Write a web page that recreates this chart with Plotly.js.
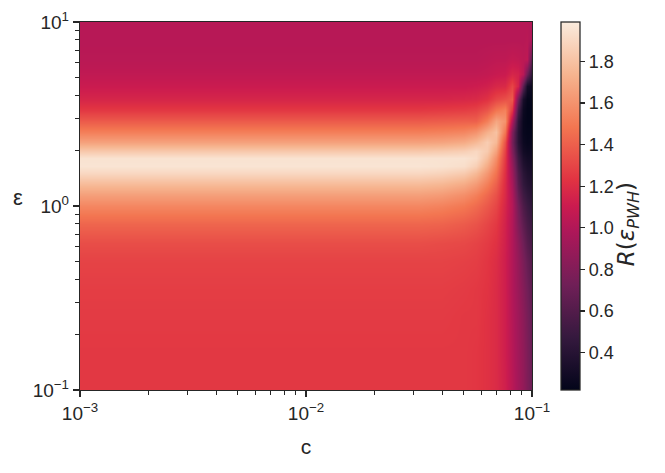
<!DOCTYPE html>
<html><head><meta charset="utf-8">
<script src="https://cdn.plot.ly/plotly-3.0.1.min.js"></script>
<style>html,body{margin:0;padding:0;background:#fff}#chart{width:665px;height:473px}</style>
</head><body><div id="chart"></div>
<script>
// log10(c) column centres
const logC = [-3, -2.5, -2, -1.7, -1.5, -1.4, -1.3, -1.25, -1.2, -1.16, -1.12, -1.09, -1.06, -1.04, -1.02, -1.0];
// log10(epsilon) row centres
const logEps = [-1.0, -0.8, -0.6, -0.45, -0.3, -0.2, -0.1, 0, 0.06, 0.12, 0.18, 0.22, 0.26, 0.3, 0.35, 0.4, 0.46, 0.52, 0.58, 0.65, 0.72, 0.8, 0.9, 1.0];
// R(eps_PWH) values, one row per epsilon, one column per c
const zRows = [
  [1.25,1.25,1.25,1.25,1.25,1.25,1.25,1.24,1.22,1.19,1.13,1.03,0.94,0.87,0.79,0.70],
  [1.25,1.25,1.25,1.25,1.25,1.25,1.25,1.24,1.22,1.19,1.12,1.02,0.93,0.86,0.78,0.68],
  [1.26,1.26,1.26,1.26,1.26,1.26,1.25,1.25,1.22,1.19,1.12,1.01,0.92,0.84,0.76,0.66],
  [1.27,1.27,1.27,1.27,1.27,1.27,1.26,1.25,1.23,1.19,1.12,1.00,0.90,0.81,0.73,0.63],
  [1.29,1.29,1.29,1.29,1.29,1.29,1.28,1.27,1.24,1.20,1.12,1.00,0.88,0.77,0.68,0.59],
  [1.33,1.33,1.33,1.33,1.33,1.32,1.31,1.29,1.26,1.22,1.13,1.00,0.85,0.72,0.62,0.54],
  [1.42,1.42,1.42,1.42,1.42,1.41,1.38,1.35,1.30,1.25,1.14,1.00,0.79,0.65,0.56,0.49],
  [1.55,1.55,1.55,1.55,1.55,1.53,1.49,1.44,1.37,1.30,1.16,1.01,0.74,0.58,0.50,0.43],
  [1.65,1.65,1.65,1.65,1.65,1.63,1.58,1.52,1.43,1.34,1.18,0.99,0.68,0.52,0.45,0.40],
  [1.77,1.77,1.77,1.77,1.77,1.75,1.70,1.63,1.52,1.40,1.19,0.96,0.62,0.46,0.40,0.36],
  [1.90,1.90,1.90,1.90,1.90,1.88,1.84,1.76,1.62,1.47,1.21,0.92,0.58,0.42,0.36,0.33],
  [1.96,1.96,1.96,1.96,1.96,1.95,1.93,1.86,1.70,1.52,1.23,0.89,0.54,0.38,0.33,0.31],
  [1.95,1.95,1.95,1.95,1.95,1.95,1.95,1.92,1.78,1.58,1.25,0.85,0.50,0.34,0.30,0.29],
  [1.83,1.83,1.83,1.83,1.83,1.84,1.86,1.90,1.84,1.66,1.28,0.80,0.45,0.30,0.27,0.27],
  [1.66,1.66,1.66,1.66,1.66,1.67,1.70,1.76,1.85,1.76,1.34,0.76,0.40,0.27,0.24,0.25],
  [1.52,1.52,1.52,1.52,1.52,1.53,1.55,1.60,1.72,1.80,1.48,0.80,0.40,0.25,0.23,0.23],
  [1.38,1.38,1.38,1.38,1.38,1.39,1.40,1.40,1.52,1.68,1.60,1.00,0.44,0.25,0.22,0.22],
  [1.25,1.25,1.25,1.25,1.25,1.26,1.27,1.29,1.36,1.48,1.53,1.24,0.55,0.27,0.22,0.22],
  [1.16,1.16,1.16,1.16,1.16,1.16,1.17,1.18,1.22,1.30,1.34,1.38,0.74,0.33,0.23,0.23],
  [1.10,1.10,1.10,1.10,1.10,1.10,1.10,1.11,1.13,1.17,1.18,1.30,1.14,0.65,0.31,0.26],
  [1.06,1.06,1.06,1.06,1.06,1.06,1.06,1.06,1.07,1.09,1.10,1.16,1.14,1.03,0.72,0.40],
  [1.03,1.03,1.03,1.03,1.03,1.03,1.03,1.03,1.04,1.05,1.05,1.07,1.06,1.04,1.05,0.60],
  [1.02,1.02,1.02,1.02,1.02,1.02,1.02,1.02,1.02,1.02,1.02,1.02,1.02,1.02,1.03,0.97],
  [1.02,1.02,1.02,1.02,1.02,1.02,1.02,1.02,1.02,1.02,1.02,1.02,1.02,1.02,1.02,1.00]
];
const cTickVals = [0.001, 0.01, 0.1];
const cTickText = ['10<sup>\u22123</sup>', '10<sup>\u22122</sup>', '10<sup>\u22121</sup>'];
const epsTickVals = [0.1, 1, 10];
const epsTickText = ['10<sup>\u22121</sup>', '10<sup>0</sup>', '10<sup>1</sup>'];
const cbTickVals = [0.4, 0.6, 0.8, 1.0, 1.2, 1.4, 1.6, 1.8];
const cbTickText = ['0.4', '0.6', '0.8', '1.0', '1.2', '1.4', '1.6', '1.8'];
const zMin = 0.22, zMax = 1.99;

const rocket = [
  [0.0, '#03051a'], [0.143, '#35193e'], [0.286, '#701f57'], [0.429, '#ad1759'],
  [0.5, '#cb1b4f'], [0.571, '#e13342'], [0.714, '#f37651'], [0.857, '#f6b48f'], [1.0, '#faebdd']
];

function minorTicks(d0, d1) {
  const out = [];
  for (let d = d0; d < d1; d++) for (let k = 2; k <= 9; k++) out.push(k * Math.pow(10, d));
  return out;
}

const ink = '#262626';
const font = 'Liberation Sans, Arial, sans-serif';
const mathFont = 'DejaVu Sans, sans-serif';

const trace = {
  type: 'heatmap',
  x: logC.map(v => Math.pow(10, v)),
  y: logEps.map(v => Math.pow(10, v)),
  z: zRows,
  zmin: zMin, zmax: zMax,
  colorscale: rocket,
  zsmooth: 'best',
  hoverinfo: 'skip',
  colorbar: {
    thickness: 19, len: 1, lenmode: 'fraction',
    x: 1.064, xanchor: 'left', xpad: 0, y: 0.5, yanchor: 'middle', ypad: 0,
    outlinecolor: ink, outlinewidth: 1.25,
    ticks: 'outside', ticklen: 5, tickwidth: 1.25, tickcolor: ink,
    tickmode: 'array', tickvals: cbTickVals, ticktext: cbTickText,
    tickfont: {family: font, size: 18, color: ink}
  }
};

const axisCommon = {
  type: 'log', showgrid: false, zeroline: false,
  showline: true, linecolor: ink, linewidth: 1.25, mirror: true,
  ticks: 'outside', ticklen: 6, tickwidth: 1.25, tickcolor: ink,
  tickmode: 'array',
  tickfont: {family: font, size: 19, color: ink}
};

const layout = {
  width: 665, height: 473,
  margin: {l: 80, r: 133, t: 22, b: 83},
  paper_bgcolor: '#ffffff', plot_bgcolor: '#ffffff',
  font: {family: font, color: ink},
  xaxis: Object.assign({}, axisCommon, {
    range: [-3, -1], tickvals: cTickVals, ticktext: cTickText,
    minor: {tickmode: 'array', tickvals: minorTicks(-3, -1), ticks: 'outside', ticklen: 3.5, tickwidth: 1, tickcolor: ink},
    title: {text: 'c', font: {family: font, size: 21, color: ink}, standoff: 16}
  }),
  yaxis: Object.assign({}, axisCommon, {
    range: [-1, 1], tickvals: epsTickVals, ticktext: epsTickText,
    minor: {tickmode: 'array', tickvals: minorTicks(-1, 1), ticks: 'outside', ticklen: 3.5, tickwidth: 1, tickcolor: ink}
  }),
  annotations: [{
    text: '\u03b5', xref: 'paper', yref: 'paper', x: -0.137, y: 0.524,
    xanchor: 'center', yanchor: 'middle', showarrow: false,
    font: {family: font, size: 22, color: ink}
  }, {
    text: '<i>R</i>(<i>\u03b5</i><sub><i>PWH</i></sub>)', xref: 'paper', yref: 'paper',
    x: 1.214, y: 0.45, xanchor: 'center', yanchor: 'middle', textangle: -90, showarrow: false,
    font: {family: mathFont, size: 23, color: ink}
  }]
};

Plotly.newPlot('chart', [trace], layout, {displayModeBar: false, staticPlot: true});
</script>
</body></html>
